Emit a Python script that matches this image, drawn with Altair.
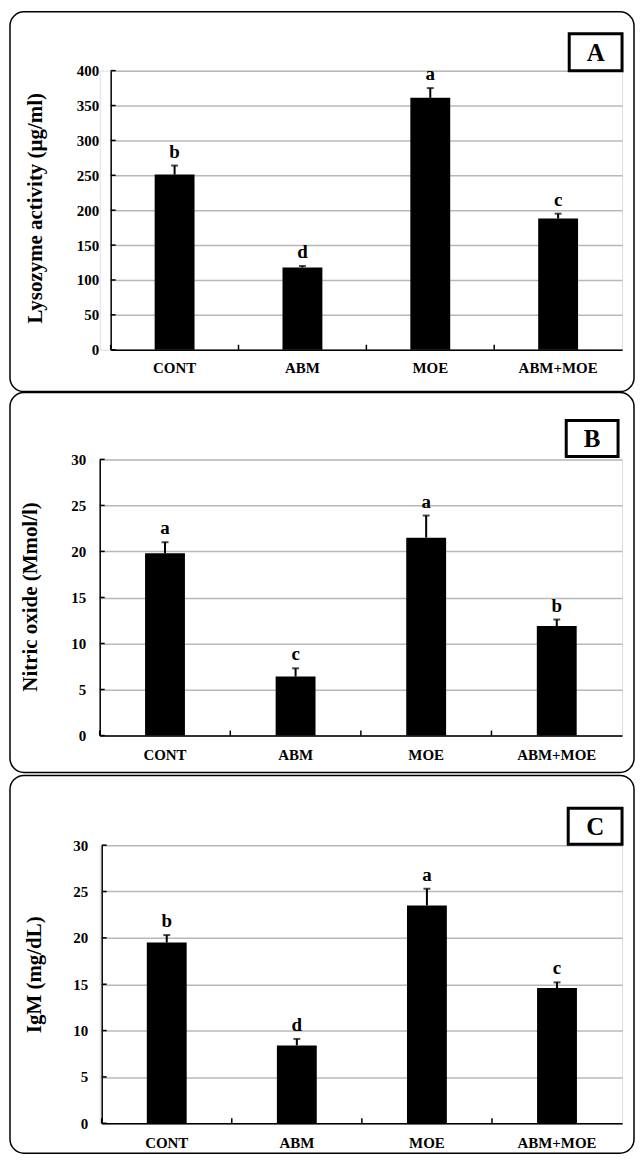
import altair as alt
import pandas as pd

SERIF = "Liberation Serif"

groups = ["CONT", "ABM", "MOE", "ABM+MOE"]

# Panel A: Lysozyme activity
lyso_mean = [251, 118, 361, 188]
lyso_err = [13, 2, 14, 7]
lyso_letters = ["b", "d", "a", "c"]
lyso_ticks = [0, 50, 100, 150, 200, 250, 300, 350, 400]

# Panel B: Nitric oxide
no_mean = [19.8, 6.4, 21.5, 11.9]
no_err = [1.2, 0.9, 2.4, 0.7]
no_letters = ["a", "c", "a", "b"]
no_ticks = [0, 5, 10, 15, 20, 25, 30]

# Panel C: IgM
igm_mean = [19.5, 8.4, 23.5, 14.6]
igm_err = [0.8, 0.7, 1.8, 0.6]
igm_letters = ["b", "d", "a", "c"]
igm_ticks = [0, 5, 10, 15, 20, 25, 30]

one = pd.DataFrame({"k": [0]})
W = 524  # common view width; each panel's x range starts at its own inset


def panel(mean, err, letters, ticks, ytitle, tag, g):
    df = pd.DataFrame({
        "group": groups,
        "v": mean,
        "upper": [m + e for m, e in zip(mean, err)],
        "letter": letters,
    })
    tdf = pd.DataFrame({"v": ticks})
    H = g["h"]
    x0 = g["x0"]
    ymax = ticks[-1]

    xaxis = alt.Axis(labelAngle=0, labelFont=SERIF, labelFontSize=15,
                     labelFontWeight="bold", labelColor="black",
                     labelPadding=g["xlp"], ticks=False,
                     domainColor="black", domainWidth=1.5)
    xscale = alt.Scale(range=[x0, W], paddingInner=0, paddingOuter=0)
    yscale = alt.Scale(domain=[0, ymax], nice=False, zero=True)
    yaxis = alt.Axis(values=ticks, format="d", grid=True, labelOverlap=False,
                     gridColor="#b8b8b8", gridWidth=1.5, ticks=False,
                     offset=-x0,
                     labelFont=SERIF, labelFontSize=15, labelFontWeight="bold",
                     labelColor="black", labelPadding=g["ylp"],
                     domainColor="black", domainWidth=1.5)

    def X(**kw):
        return alt.X("group:N", sort=groups, title=None, scale=xscale,
                     axis=xaxis, **kw)

    def Y(field):
        return alt.Y(field, title=None, scale=yscale, axis=yaxis)

    base = alt.Chart(df)
    bars = base.mark_bar(color="black", size=40).encode(x=X(), y=Y("v:Q"))
    err_rule = base.mark_rule(color="black", strokeWidth=2).encode(
        x=X(), y=Y("v:Q"), y2="upper:Q")
    cap = base.mark_tick(color="black", size=7, thickness=2).encode(
        x=X(), y=Y("upper:Q"))
    letters_t = base.mark_text(dy=-4, baseline="bottom", font=SERIF,
                               fontSize=19, fontWeight="bold",
                               color="black").encode(
        x=X(), y=Y("upper:Q"), text="letter:N")
    ytick = alt.Chart(tdf).mark_rule(color="black", strokeWidth=1.5).encode(
        x=alt.value(x0), x2=alt.value(x0 + 5), y=Y("v:Q"))
    xtick = base.mark_rule(color="black", strokeWidth=1.5).encode(
        x=X(bandPosition=0), y=alt.value(H - 5), y2=alt.value(H))
    box = alt.Chart(one).mark_rect(filled=False, stroke="black",
                                   strokeWidth=1.5, cornerRadius=14).encode(
        x=alt.value(-90), x2=alt.value(536),
        y=alt.value(g["by"][0]), y2=alt.value(g["by"][1]))
    tagbox = alt.Chart(one).mark_rect(filled=False, stroke="black",
                                      strokeWidth=3).encode(
        x=alt.value(g["tx"][0]), x2=alt.value(g["tx"][1]),
        y=alt.value(g["ty"][0]), y2=alt.value(g["ty"][1]))
    tagtext = alt.Chart(one).mark_text(text=tag, font=SERIF, fontSize=25,
                                       fontWeight="bold", color="black",
                                       baseline="middle", align="center").encode(
        x=alt.value((g["tx"][0] + g["tx"][1]) / 2),
        y=alt.value((g["ty"][0] + g["ty"][1]) / 2 + 1))
    title = alt.Chart(one).mark_text(text=ytitle, font=SERIF, fontSize=21,
                                     fontWeight="bold", color="black",
                                     angle=270, baseline="middle",
                                     align="center").encode(
        x=alt.value(g["ttl"][0]), y=alt.value(g["ttl"][1]))

    return alt.layer(box, bars, err_rule, cap, letters_t, ytick, xtick,
                     tagbox, tagtext, title).properties(width=W, height=H)


# common view origin at page x = 99; plot areas start at 110 / 99 / 101
gA = dict(h=280, x0=11, by=(-59, 322), tx=(471, 524), ty=(-37, 0),
          ttl=(-64, 138), ylp=12, xlp=11)
gB = dict(h=277, x0=0, by=(-67, 314), tx=(468, 520), ty=(-39, -3),
          ttl=(-69, 138), ylp=14, xlp=12)
gC = dict(h=279, x0=2, by=(-70, 309), tx=(470, 524), ty=(-37, -1),
          ttl=(-65, 130), ylp=14, xlp=12)

pA = panel(lyso_mean, lyso_err, lyso_letters, lyso_ticks,
           "Lysozyme activity (µg/ml)", "A", gA)
pB = panel(no_mean, no_err, no_letters, no_ticks,
           "Nitric oxide (Mmol/l)", "B", gB)
pC = panel(igm_mean, igm_err, igm_letters, igm_ticks,
           "IgM (mg/dL)", "C", gC)

# plot areas are about 110 px apart (flush bounds: only plot areas count)
chart = alt.vconcat(pA, pB, pC, spacing=110, bounds="flush").properties(
    padding=0
).configure_view(strokeWidth=0, stroke="transparent").configure(background="white")

chart.save("out.html", embed_options={"renderer": "svg", "actions": False})
